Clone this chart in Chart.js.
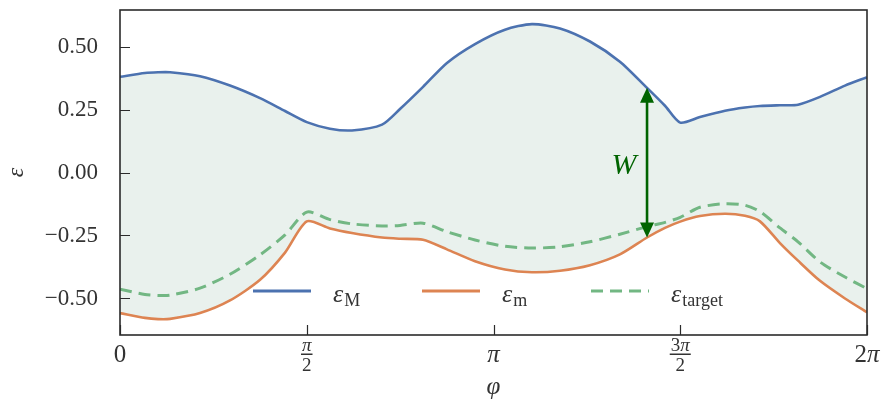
<!DOCTYPE html>
<html>
<head>
<meta charset="utf-8">
<script src="https://cdn.jsdelivr.net/npm/chart.js@4.4.0/dist/chart.umd.min.js"></script>
<style>
  html, body { margin: 0; padding: 0; background: #fff; }
  #wrap { width: 881px; height: 400px; position: relative; }
</style>
</head>
<body>
<div id="wrap"><canvas id="chart"></canvas></div>
<script>
// angle samples (rad) shared by the three curves
const phi = [0.000, 0.210, 0.320, 0.421, 0.673, 0.925, 1.178, 1.388, 1.571, 1.766, 1.951, 2.204, 2.355, 2.549,
             2.750, 2.986, 3.238, 3.465, 3.701, 3.953, 4.205, 4.433, 4.584, 4.712, 4.878, 5.089, 5.257, 5.383,
             5.551, 5.703, 5.888, 6.098, 6.283];
const epsMax = [0.380, 0.395, 0.398, 0.398, 0.382, 0.345, 0.295, 0.244, 0.200, 0.174, 0.167, 0.190, 0.252, 0.340,
                0.435, 0.510, 0.567, 0.589, 0.572, 0.520, 0.440, 0.336, 0.265, 0.198, 0.220, 0.245, 0.258, 0.264,
                0.267, 0.269, 0.300, 0.345, 0.378];
const epsMin = [-0.558, -0.577, -0.582, -0.581, -0.558, -0.508, -0.426, -0.318, -0.194, -0.222, -0.240, -0.258, -0.263, -0.267,
                -0.305, -0.352, -0.385, -0.396, -0.390, -0.368, -0.325, -0.258, -0.220, -0.195, -0.173, -0.164, -0.172, -0.194,
                -0.280, -0.350, -0.430, -0.500, -0.555];
const epsTarget = [-0.463, -0.484, -0.488, -0.487, -0.459, -0.404, -0.327, -0.248, -0.157, -0.187, -0.204, -0.212, -0.210, -0.201,
                   -0.235, -0.268, -0.293, -0.300, -0.295, -0.275, -0.245, -0.215, -0.198, -0.178, -0.138, -0.124, -0.130, -0.155,
                   -0.220, -0.275, -0.355, -0.415, -0.461];

const xTickValues = [0, Math.PI / 2, Math.PI, 3 * Math.PI / 2, 2 * Math.PI];
const xTickLabels = ['0', 'π/2', 'π', '3π/2', '2π'];
const yTickValues = [-0.5, -0.25, 0, 0.25, 0.5];

// W arrow spans from the min curve up to the max curve at this angle
const arrowPhi = 4.433;
const arrowBottom = -0.258;
const arrowTop = 0.336;

const seriesNames = [['ε', 'M'], ['ε', 'm'], ['ε', 'target']];

const SERIF = '"Liberation Serif", "DejaVu Serif", serif';
const INK = '#333333';

function toPoints(ys) {
    return phi.map((x, i) => ({ x: x, y: ys[i] }));
}

// digits upright, π in italic, centred on cx
function drawMath(ctx, text, cx, baseline, size) {
    const parts = text.split('').map(ch => ({
        ch: ch,
        font: (ch === 'π' ? 'italic ' : '') + size + 'px ' + SERIF
    }));
    let total = 0;
    parts.forEach(p => { ctx.font = p.font; p.w = ctx.measureText(p.ch).width; total += p.w; });
    let x = cx - total / 2;
    ctx.textAlign = 'left';
    ctx.textBaseline = 'alphabetic';
    parts.forEach(p => { ctx.font = p.font; ctx.fillText(p.ch, x, baseline); x += p.w; });
    return total;
}

function drawArrowHead(ctx, x, y, dir) {
    ctx.beginPath();
    ctx.moveTo(x, y);
    ctx.lineTo(x - 7, y - dir * 15);
    ctx.lineTo(x + 7, y - dir * 15);
    ctx.closePath();
    ctx.fill();
}

const decorPlugin = {
    id: 'decor',
    afterDraw(chart) {
        const ctx = chart.ctx;
        const area = chart.chartArea;
        const xs = chart.scales.x;
        const ys = chart.scales.y;
        ctx.save();

        // frame
        ctx.strokeStyle = '#2b2b2b';
        ctx.lineWidth = 1.6;
        ctx.strokeRect(area.left, area.top, area.right - area.left, area.bottom - area.top);

        // inward ticks
        ctx.lineWidth = 1.2;
        ctx.beginPath();
        yTickValues.forEach(v => {
            const py = Math.round(ys.getPixelForValue(v)) + 0.5;
            ctx.moveTo(area.left, py);
            ctx.lineTo(area.left + 10, py);
        });
        xTickValues.forEach(v => {
            const px = Math.round(xs.getPixelForValue(v)) + 0.5;
            ctx.moveTo(px, area.bottom);
            ctx.lineTo(px, area.bottom - 10);
        });
        ctx.stroke();

        // x tick labels (fractions drawn stacked)
        ctx.fillStyle = INK;
        xTickValues.forEach((v, i) => {
            const px = xs.getPixelForValue(v);
            const lab = xTickLabels[i];
            if (lab.includes('/')) {
                const [num, den] = lab.split('/');
                const w = drawMath(ctx, num, px, area.bottom + 16, 19);
                drawMath(ctx, den, px, area.bottom + 36, 19);
                ctx.fillRect(px - w / 2 - 1, area.bottom + 18.5, w + 2, 1.5);
            } else {
                drawMath(ctx, lab, px, area.bottom + 27, 25);
            }
        });

        // x title
        ctx.font = 'italic 25px ' + SERIF;
        ctx.textAlign = 'center';
        ctx.textBaseline = 'alphabetic';
        ctx.fillText('φ', (area.left + area.right) / 2, 394);

        // legend
        const legY = 291;
        const legItems = [
            { x0: 253, color: '#4c72b0', dash: [] },
            { x0: 422, color: '#dd8452', dash: [] },
            { x0: 591, color: '#72b783', dash: [12, 7] }
        ];
        legItems.forEach((it, i) => {
            ctx.strokeStyle = it.color;
            ctx.lineWidth = 3;
            ctx.setLineDash(it.dash);
            ctx.beginPath();
            ctx.moveTo(it.x0, legY);
            ctx.lineTo(it.x0 + 58, legY);
            ctx.stroke();
            ctx.setLineDash([]);
            const [sym, sub] = seriesNames[i];
            ctx.fillStyle = INK;
            ctx.textAlign = 'left';
            ctx.textBaseline = 'alphabetic';
            ctx.font = 'italic 26px ' + SERIF;
            const tx = it.x0 + 80;
            ctx.fillText(sym, tx, legY + 11);
            const sw = ctx.measureText(sym).width;
            ctx.font = '18px ' + SERIF;
            ctx.fillText(sub, tx + sw + 1, legY + 15);
        });

        // W arrow
        const ax = xs.getPixelForValue(arrowPhi);
        const yTop = ys.getPixelForValue(arrowTop);
        const yBot = ys.getPixelForValue(arrowBottom);
        ctx.strokeStyle = '#006400';
        ctx.fillStyle = '#006400';
        ctx.lineWidth = 2.6;
        ctx.beginPath();
        ctx.moveTo(ax, yTop + 12);
        ctx.lineTo(ax, yBot - 12);
        ctx.stroke();
        drawArrowHead(ctx, ax, yTop, -1);
        drawArrowHead(ctx, ax, yBot, 1);
        ctx.font = 'italic 30px ' + SERIF;
        ctx.textAlign = 'center';
        ctx.textBaseline = 'middle';
        ctx.fillText('W', ax - 23, (yTop + yBot) / 2 + 3);

        ctx.restore();
    }
};

new Chart(document.getElementById('chart'), {
    type: 'line',
    data: {
        datasets: [
            {
                label: 'eps_M',
                data: toPoints(epsMax),
                borderColor: '#4c72b0',
                borderWidth: 2.6,
                pointRadius: 0,
                fill: { target: 1 },
                backgroundColor: 'rgba(76, 140, 110, 0.12)'
            },
            {
                label: 'eps_m',
                data: toPoints(epsMin),
                borderColor: '#dd8452',
                borderWidth: 2.6,
                pointRadius: 0,
                fill: false
            },
            {
                label: 'eps_target',
                data: toPoints(epsTarget),
                borderColor: '#72b783',
                borderWidth: 3,
                borderDash: [12, 7],
                pointRadius: 0,
                fill: false
            }
        ]
    },
    options: {
        responsive: true,
        maintainAspectRatio: false,
        animation: false,
        layout: { padding: { left: 0, top: 10, right: 14, bottom: 0 } },
        elements: { line: { tension: 0.25 } },
        scales: {
            x: {
                type: 'linear',
                min: 0,
                max: 2 * Math.PI,
                grid: { display: false },
                border: { display: false },
                ticks: { display: false },
                afterBuildTicks: s => { s.ticks = xTickValues.map(v => ({ value: v })); },
                afterFit: s => { s.height = 65; s.paddingLeft = 0; s.paddingRight = 0; }
            },
            y: {
                min: -0.645,
                max: 0.645,
                grid: { display: false },
                border: { display: false },
                afterBuildTicks: s => { s.ticks = yTickValues.map(v => ({ value: v })); },
                afterFit: s => { s.width = 120; s.paddingTop = 0; s.paddingBottom = 0; },
                ticks: {
                    padding: 14,
                    color: INK,
                    font: { family: SERIF, size: 23 },
                    callback: v => (v < 0 ? '\u2212' : '') + Math.abs(v).toFixed(2)
                },
                title: {
                    display: true,
                    text: 'ε',
                    color: INK,
                    font: { family: SERIF, size: 24, style: 'italic' },
                    padding: { top: 2, bottom: 0 }
                }
            }
        },
        plugins: {
            legend: { display: false },
            tooltip: { enabled: false },
            filler: { drawTime: 'beforeDatasetsDraw' }
        }
    },
    plugins: [decorPlugin]
});
</script>
</body>
</html>
